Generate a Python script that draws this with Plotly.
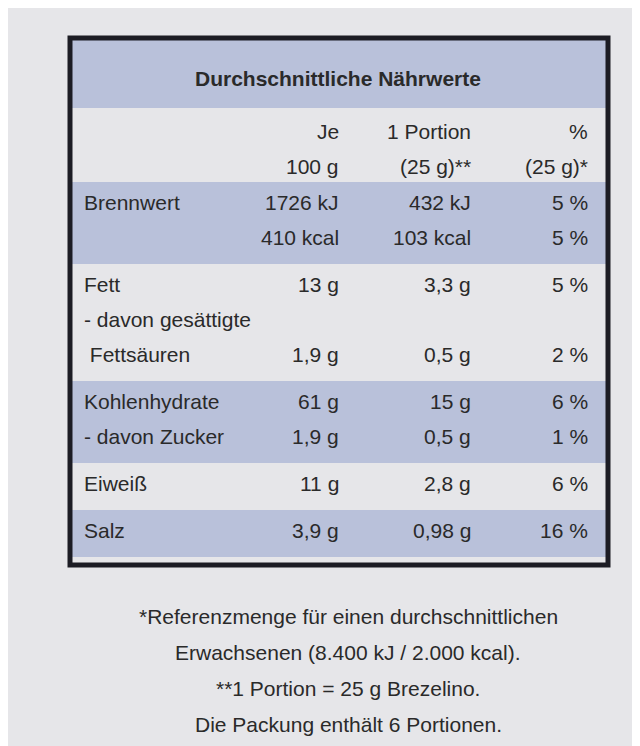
import plotly.graph_objects as go

title = "Durchschnittliche Nährwerte"
col_heads = [["Je", "100 g"], ["1 Portion", "(25 g)**"], ["%", "(25 g)*"]]
labels = [["Brennwert", ""], ["Fett", "- davon gesättigte", " Fettsäuren"],
          ["Kohlenhydrate", "- davon Zucker"], ["Eiweiß"], ["Salz"]]
per100 = [["1726 kJ", "410 kcal"], ["13 g", "", "1,9 g"], ["61 g", "1,9 g"], ["11 g"], ["3,9 g"]]
portion = [["432 kJ", "103 kcal"], ["3,3 g", "", "0,5 g"], ["15 g", "0,5 g"], ["2,8 g"], ["0,98 g"]]
percent = [["5 %", "5 %"], ["5 %", "", "2 %"], ["6 %", "1 %"], ["6 %"], ["16 %"]]
shaded = [True, False, True, False, True]
footnotes = ["*Referenzmenge für einen durchschnittlichen",
             "Erwachsenen (8.400 kJ / 2.000 kcal).",
             "**1 Portion = 25 g Brezelino.",
             "Die Packung enthält 6 Portionen."]

font = dict(family="Liberation Sans Narrow, Liberation Sans, Arial", size=21, color="#2a2a2a")
fig = go.Figure()
shapes, ann = [], []
L, R = 62, 600
band = "#b9c1da"

shapes.append(dict(type="rect", x0=L, x1=R, y0=32, y1=100, fillcolor=band, line_width=0, layer="below"))
ann.append(dict(x=330, y=70, text="<b>" + title + "</b>", showarrow=False, font=font))
xs = [333, 465, 582]
for x, h in zip(xs, col_heads):
    ann.append(dict(x=x, y=123, text=h[0], xanchor="right", showarrow=False, font=font))
    ann.append(dict(x=x, y=158, text=h[1], xanchor="right", showarrow=False, font=font))

line_h = 35
y = 174
for i in range(len(labels)):
    n = len(labels[i])
    h = n * line_h + 12
    if shaded[i]:
        shapes.append(dict(type="rect", x0=L, x1=R, y0=y, y1=y + h, fillcolor=band, line_width=0, layer="below"))
    for j in range(n):
        yy = y + 20 + j * line_h
        ann.append(dict(x=74, y=yy, text=labels[i][j], xanchor="left", showarrow=False, font=font))
        for x, col in zip(xs, [per100, portion, percent]):
            ann.append(dict(x=x, y=yy, text=col[i][j], xanchor="right", showarrow=False, font=font))
    y += h
shapes.append(dict(type="rect", x0=L, x1=R, y0=30, y1=y + 8, line=dict(color="#1c1c24", width=5), layer="above"))

for k, t in enumerate(footnotes):
    ann.append(dict(x=340, y=608 + k * 36, text=t, showarrow=False, font=font))

fig.update_layout(width=640, height=746, margin=dict(l=0, r=0, t=0, b=0),
                  paper_bgcolor="#e6e6e9", plot_bgcolor="#e6e6e9",
                  shapes=shapes, annotations=ann, showlegend=False,
                  xaxis=dict(range=[0, 640], visible=False),
                  yaxis=dict(range=[746, 0], visible=False))
fig.write_html("out.html")
